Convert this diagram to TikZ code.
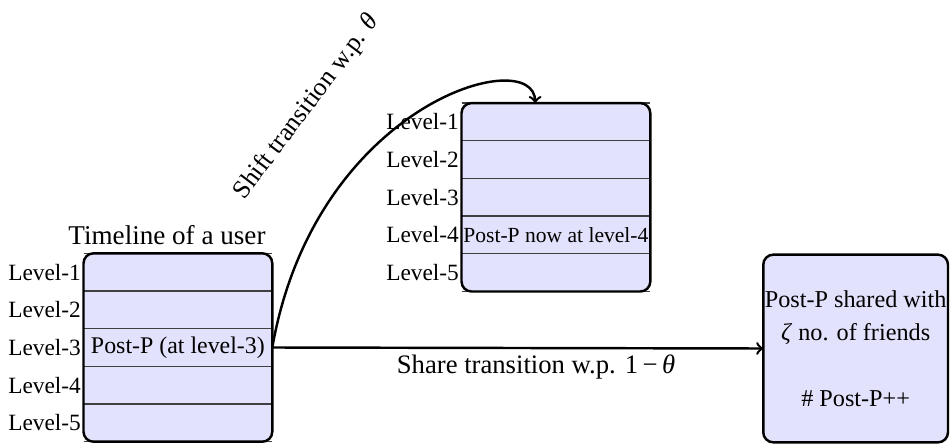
\documentclass[tikz,border=0pt]{standalone}
\usepackage{fontspec}
\setmainfont{Liberation Serif}
\usetikzlibrary{calc}
\definecolor{boxfill}{RGB}{226,226,252}
\newcommand{\pxu}{0.45pt}
\newcommand{\fsz}[1]{\fontsize{#1}{1.2\dimexpr #1pt\relax}\selectfont}
\tikzset{
  boxbg/.style={fill=boxfill, rounded corners=4.5pt, minimum width=188.8*\pxu, minimum height=188.4*\pxu, inner sep=0pt, outer sep=0pt},
  boxborder/.style={draw=black, line width=1.1pt, rounded corners=4.5pt},
  rownode/.style={minimum width=188.8*\pxu, minimum height=37.68*\pxu, inner sep=0pt, outer sep=0pt},
  rowline/.style={draw=black!75, line width=0.6pt},
  lvl/.style={anchor=east, inner sep=1pt, font=\fsz{10.5}},
  arr/.style={->, line width=1.1pt},
}
\begin{document}
\begin{tikzpicture}[x=0.45pt,y=-0.45pt]
\useasboundingbox (0,0) rectangle (950,445);
% left box
\node[boxbg] (left) at (177.9,347.5) {};
\node[rownode, anchor=north] (l1) at (left.north) {};
\node[rownode, anchor=north] (l2) at (l1.south) {};
\node[rownode, anchor=north] (l3) at (l2.south) {};
\node[rownode, anchor=north] (l4) at (l3.south) {};
\node[rownode, anchor=north] (l5) at (l4.south) {};
\foreach \r in {l1,l2,l3,l4,l5} \draw[rowline] (\r.north west) -- (\r.north east);
\draw[rowline] (l5.south west) -- (l5.south east);
\draw[boxborder] (left.north west) rectangle (left.south east);
\node[font=\fsz{10.75}, inner sep=0pt] (l3txt) at (l3) {Post-P (at level-3)};
\node[lvl] (ll1) at (l1.west) {Level-1};
\node[lvl] (ll2) at (l2.west) {Level-2};
\node[lvl] (ll3) at (l3.west) {Level-3};
\node[lvl] (ll4) at (l4.west) {Level-4};
\node[lvl] (ll5) at (l5.west) {Level-5};
\node[font=\fsz{12.2}] (title) at (167,235) {Timeline of a user};
% middle box
\node[boxbg] (mid) at (555.9,197.3) {};
\node[rownode, anchor=north] (m1) at (mid.north) {};
\node[rownode, anchor=north] (m2) at (m1.south) {};
\node[rownode, anchor=north] (m3) at (m2.south) {};
\node[rownode, anchor=north] (m4) at (m3.south) {};
\node[rownode, anchor=north] (m5) at (m4.south) {};
\foreach \r in {m1,m2,m3,m4,m5} \draw[rowline] (\r.north west) -- (\r.north east);
\draw[rowline] (m5.south west) -- (m5.south east);
\draw[boxborder] (mid.north west) rectangle (mid.south east);
\node[font=\fsz{9.7}, inner sep=0pt] (m4txt) at (m4) {Post-P now at level-4};
\node[lvl] (ml1) at (m1.west) {Level-1};
\node[lvl] (ml2) at (m2.west) {Level-2};
\node[lvl] (ml3) at (m3.west) {Level-3};
\node[lvl] (ml4) at (m4.west) {Level-4};
\node[lvl] (ml5) at (m5.west) {Level-5};
% right box
\node[boxbg, draw=black, line width=1.1pt, minimum width=184.7*\pxu, minimum height=187.7*\pxu, align=center,
      font=\fontsize{10.9}{14.85}\selectfont] (right) at (855.65,348.5)
  {Post-P shared with\\ \textit{ζ} no. of friends\\ \\ \# Post-P++};
% arrows
\coordinate (mtop) at ($(mid.north west)!0.39!(mid.north east)$);
\draw[arr] (l3.east) -- (right.west);
\node[font=\fsz{12}] (sharelbl) at (536,367) {Share transition w.p. 1\,−\,\textit{θ}};
\draw[arr] (l3.east) .. controls +(43,-245) and +(0,-60) .. (mtop);
\node[rotate=53, font=\fsz{11.6}] (shiftlbl) at (307,107) {Shift transition w.p. \textit{θ}};
\end{tikzpicture}
\end{document}
